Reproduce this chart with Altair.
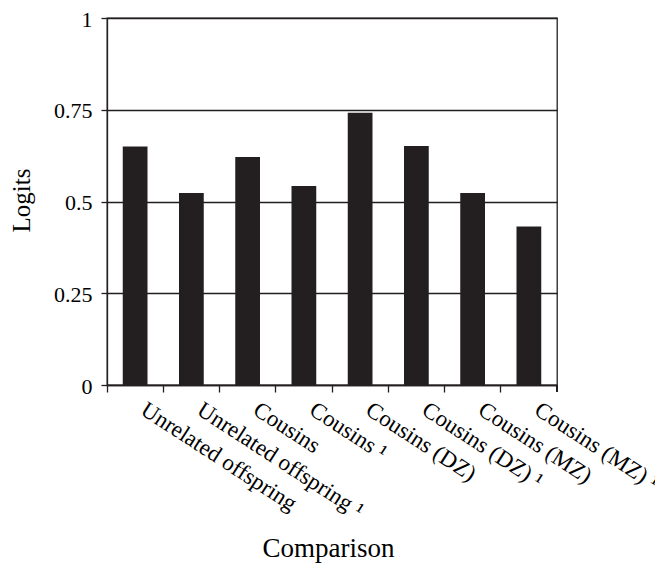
import altair as alt
import pandas as pd

categories = [
    "Unrelated offspring",
    "Unrelated offspring \u00b9",
    "Cousins",
    "Cousins \u00b9",
    "Cousins (DZ)",
    "Cousins (DZ) \u00b9",
    "Cousins (MZ)",
    "Cousins (MZ) \u00b9",
]
values = [0.65, 0.523, 0.621, 0.542, 0.742, 0.651, 0.523, 0.432]
y_ticks = [0, 0.25, 0.5, 0.75, 1]

df = pd.DataFrame({"Comparison": categories, "Logits": values})

FONT = "Liberation Serif"
INK = "#231F20"

bars = alt.Chart(df).mark_bar(
    color=INK, width=alt.RelativeBandSize(0.44)
).encode(
    x=alt.X(
        "Comparison:N",
        sort=categories,
        scale=alt.Scale(paddingInner=0, paddingOuter=0),
        axis=alt.Axis(
            title="Comparison",
            bandPosition=0,
            labelAngle=33,
            labelAlign="left",
            labelBaseline="top",
            labelOffset=14,
            labelPadding=6,
            labelFontSize=23,
            labelColor="black",
            tickSize=7,
            tickColor=INK,
            tickWidth=1.3,
            domainColor=INK,
            domainWidth=1.3,
            titleFontSize=27,
            titleColor="black",
            titleX=221,
            titleY=171,
            titleAnchor="middle",
            titleAlign="center",
            titleBaseline="alphabetic",
            grid=False,
            labelOverlap=False,
            labelLimit=400,
        ),
    ),
    y=alt.Y(
        "Logits:Q",
        scale=alt.Scale(domain=[0, 1], nice=False),
        axis=alt.Axis(
            title="Logits",
            values=y_ticks,
            format=".2~f",
            labelFontSize=22,
            labelColor="black",
            labelPadding=9,
            labelOffset=1,
            tickSize=6,
            tickColor=INK,
            tickWidth=1.3,
            domainColor=INK,
            domainWidth=1.3,
            grid=True,
            gridColor=INK,
            gridWidth=1.3,
            gridOpacity=1,
            titleFontSize=25,
            titleColor="black",
            titleAngle=-90,
            titleX=-86,
            titleY=182,
            titleAlign="center",
            titleBaseline="middle",
        ),
    ),
)

end_tick = alt.Chart(df).mark_rule(color=INK, strokeWidth=1.3).encode(
    x=alt.value(450), y=alt.value(367), y2=alt.value(374)
)

chart = alt.layer(bars, end_tick).properties(
    width=450,
    height=367,
    padding={"left": 99, "top": 10, "right": 98, "bottom": 178},
    autosize=alt.AutoSizeParams(type="none"),
).configure(
    background="white", font=FONT
).configure_axis(
    labelFont=FONT, titleFont=FONT, titleFontWeight="normal"
).configure_view(
    stroke=INK, strokeWidth=1.3
)

chart.save("out.html", embed_options={"renderer": "svg", "actions": False})
